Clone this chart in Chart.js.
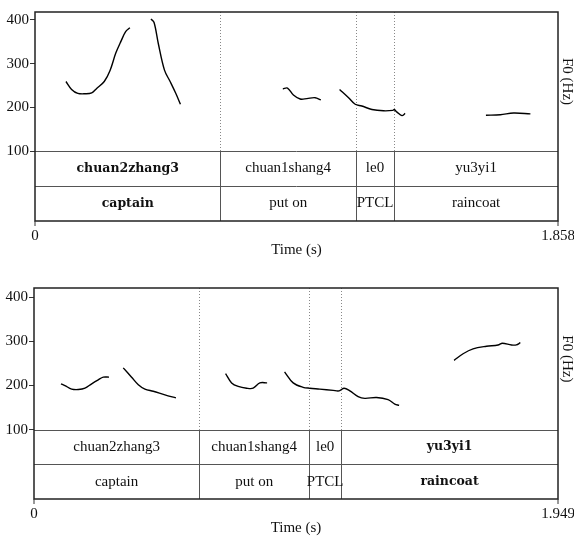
<!DOCTYPE html>
<html>
<head>
<meta charset="utf-8">
<script src="https://cdn.jsdelivr.net/npm/chart.js@4"></script>
<style>
  body { margin: 0; background: #fff; }
  canvas { display: block; }
</style>
</head>
<body>
<canvas id="topChart" width="574" height="268"></canvas>
<canvas id="bottomChart" width="574" height="270"></canvas>
<script>
// --- top utterance ---
const topDuration = 1.858;
const topTimes = [0.110, 0.130, 0.152, 0.178, 0.2015, 0.219, 0.246, 0.267, 0.287, 0.306, 0.322, 0.337, null,
  0.412, 0.423, 0.438, 0.460, 0.480, 0.500, 0.5166, null,
  0.8805, 0.897, 0.918, 0.942, 0.966, 0.995, 1.0155, null,
  1.082, 1.114, 1.1375, 1.161, 1.197, 1.238, 1.2715, 1.276, 1.286, 1.3035, 1.315, null,
  1.602, 1.653, 1.700, 1.760];
const topF0 = [259, 241, 232, 231, 233, 243, 259, 285, 324, 352, 373, 382, null,
  402, 394, 346, 285, 259, 232, 207, null,
  242, 244, 228, 219, 220, 222, 217, null,
  241, 222, 207, 203, 195, 192, 193, 195, 189, 181, 186, null,
  182, 183, 187, 185];
const topBounds = [0, 0.659, 1.140, 1.276, 1.858];
const topPinyin = ['chuan2zhang3', 'chuan1shang4', 'le0', 'yu3yi1'];
const topGloss = ['captain', 'put on', 'PTCL', 'raincoat'];
const topBold = [0];

// --- bottom utterance ---
const bottomDuration = 1.949;
const bottomTimes = [0.1004, 0.115, 0.140, 0.165, 0.1896, 0.2145, 0.239, 0.2577, 0.279, null,
  0.332, 0.363, 0.388, 0.4126, 0.4435, 0.487, 0.528, null,
  0.7126, 0.735, 0.7595, 0.7907, 0.815, 0.840, 0.867, null,
  0.932, 0.964, 1.001, 1.026, 1.063, 1.1127, 1.135, 1.1535, 1.175, 1.2056, 1.2305, 1.274, 1.317, 1.342, 1.358, null,
  1.5625, 1.596, 1.633, 1.683, 1.726, 1.742, 1.776, 1.794, 1.809];
const bottomF0 = [204, 200, 192, 191, 194, 204, 213, 219, 219, null,
  240, 219, 202, 192, 187, 179, 172, null,
  227, 206, 198, 194, 194, 206, 206, null,
  231, 206, 196, 194, 192, 189, 188, 194, 188, 175, 171, 173, 168, 158, 155, null,
  257, 272, 283, 289, 292, 296, 292, 292, 297];
const bottomBounds = [0, 0.6145, 1.0234, 1.1424, 1.949];
const bottomPinyin = ['chuan2zhang3', 'chuan1shang4', 'le0', 'yu3yi1'];
const bottomGloss = ['captain', 'put on', 'PTCL', 'raincoat'];
const bottomBold = [3];

const f0Ticks = [100, 200, 300, 400];
const serif = '"Liberation Serif", "Times New Roman", serif';

// draws frame, textgrid tiers, boundaries and axis texts
const textgridPlugin = {
  id: 'textgrid',
  afterDraw(chart) {
    const o = chart.options.plugins.textgrid;
    const ctx = chart.ctx;
    const a = chart.chartArea;
    const x = chart.scales.x, y = chart.scales.y;
    const y100 = y.getPixelForValue(100);
    const tierH = (a.bottom - y100) / 2;
    ctx.save();
    // boundaries: dotted in pitch area, solid in tiers
    o.bounds.slice(1, -1).forEach(b => {
      const px = Math.round(x.getPixelForValue(b)) + 0.5;
      ctx.strokeStyle = '#888';
      ctx.lineWidth = 1;
      ctx.setLineDash([1, 2]);
      ctx.beginPath(); ctx.moveTo(px, a.top); ctx.lineTo(px, y100); ctx.stroke();
      ctx.setLineDash([]);
      ctx.strokeStyle = '#555';
      ctx.beginPath(); ctx.moveTo(px, y100); ctx.lineTo(px, a.bottom); ctx.stroke();
    });
    // tier separators
    ctx.strokeStyle = '#555';
    ctx.lineWidth = 1;
    [y100, y100 + tierH].forEach(yy => {
      const py = Math.round(yy) + 0.5;
      ctx.beginPath(); ctx.moveTo(a.left, py); ctx.lineTo(a.right, py); ctx.stroke();
    });
    // frame
    ctx.strokeStyle = '#222';
    ctx.lineWidth = 1.5;
    ctx.strokeRect(a.left, a.top, a.right - a.left, a.bottom - a.top);
    // tier labels
    ctx.fillStyle = '#111';
    ctx.textAlign = 'center';
    ctx.textBaseline = 'middle';
    [o.pinyin, o.gloss].forEach((labels, tier) => {
      const cy = y100 + tierH * (tier + 0.5);
      labels.forEach((lab, i) => {
        const cx = (x.getPixelForValue(o.bounds[i]) + x.getPixelForValue(o.bounds[i + 1])) / 2;
        ctx.font = o.bold.includes(i) ? 'bold 12.5px "DejaVu Serif", serif' : '15px ' + serif;
        ctx.fillText(lab, cx, cy);
      });
    });
    // time axis
    ctx.font = '15px ' + serif;
    ctx.fillText('0', a.left, a.bottom + 15);
    ctx.fillText(String(o.duration), a.right, a.bottom + 15);
    ctx.fillText('Time (s)', (a.left + a.right) / 2, a.bottom + 29);
    // ticks at the ends of the time axis
    ctx.strokeStyle = '#333';
    ctx.lineWidth = 1;
    ctx.beginPath(); ctx.moveTo(a.right, a.bottom); ctx.lineTo(a.right, a.bottom + 5); ctx.stroke();
    ctx.beginPath(); ctx.moveTo(a.left, a.bottom); ctx.lineTo(a.left, a.bottom + 5); ctx.stroke();
    // F0 label on the right
    ctx.translate(a.right + 9, (a.top + y100) / 2);
    ctx.rotate(Math.PI / 2);
    ctx.fillText('F0 (Hz)', 0, 0);
    ctx.restore();
  }
};

function makeChart(id, times, f0, duration, yMin, yMax, bounds, pinyin, gloss, bold, pad) {
  const points = times.map((t, i) => ({ x: t, y: f0[i] }));
  return new Chart(document.getElementById(id).getContext('2d'), {
    type: 'line',
    data: {
      datasets: [{
        data: points,
        borderColor: '#000',
        borderWidth: 1.4,
        pointRadius: 0,
        tension: 0.35,
        spanGaps: false
      }]
    },
    options: {
      responsive: false,
      animation: false,
      layout: { padding: pad },
      plugins: {
        legend: { display: false },
        tooltip: { enabled: false },
        textgrid: { bounds, pinyin, gloss, bold, duration }
      },
      scales: {
        x: { type: 'linear', min: 0, max: duration, display: false },
        y: {
          min: yMin, max: yMax,
          afterBuildTicks: s => { s.ticks = f0Ticks.map(v => ({ value: v })); },
          afterFit: s => { s.width = pad.yWidth; },
          border: { display: false },
          grid: { drawOnChartArea: false, tickLength: 5, color: '#333' },
          ticks: { padding: 1, color: '#111', font: { family: serif, size: 15 } }
        }
      }
    },
    plugins: [textgridPlugin]
  });
}

makeChart('topChart', topTimes, topF0, topDuration, -60, 418,
  topBounds, topPinyin, topGloss, topBold,
  { top: 12, bottom: 47, left: 0, right: 16, yWidth: 35 });
makeChart('bottomChart', bottomTimes, bottomF0, bottomDuration, -57, 421,
  bottomBounds, bottomPinyin, bottomGloss, bottomBold,
  { top: 20, bottom: 39, left: 0, right: 16, yWidth: 34 });
</script>
</body>
</html>
